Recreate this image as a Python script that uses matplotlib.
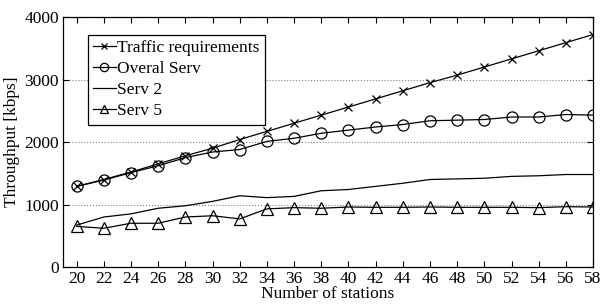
import matplotlib
matplotlib.use('Agg')
from matplotlib import pyplot as plt

stations = [20, 22, 24, 26, 28, 30, 32, 34, 36, 38, 40, 42, 44, 46, 48, 50, 52, 54, 56, 58]
traffic = [1290, 1400, 1520, 1650, 1780, 1900, 2040, 2170, 2300, 2430,
           2560, 2690, 2820, 2950, 3070, 3200, 3330, 3460, 3590, 3720]
overall = [1290, 1390, 1510, 1620, 1750, 1840, 1880, 2010, 2060, 2140,
           2190, 2240, 2280, 2340, 2350, 2360, 2400, 2400, 2440, 2430]
serv2 = [670, 800, 850, 940, 980, 1050, 1140, 1110, 1130, 1220,
         1240, 1290, 1340, 1400, 1410, 1420, 1450, 1460, 1480, 1480]
serv5 = [650, 620, 700, 700, 800, 820, 770, 930, 950, 940,
         960, 955, 955, 960, 955, 955, 955, 950, 965, 960]

plt.rcParams['font.family'] = ['Liberation Serif', 'DejaVu Serif']
plt.rcParams['font.size'] = 12.5

fig = plt.figure(figsize=(6.03, 3.04), dpi=100)
ax = fig.add_axes([0.1045, 0.1217, 0.879, 0.8223])

ax.plot(stations, traffic, color='black', lw=0.9, marker='x', ms=6, mew=0.9,
        label='Traffic requirements')
ax.plot(stations, overall, color='black', lw=0.9, marker='o', ms=8, mfc='none', mew=0.9,
        label='Overal Serv')
ax.plot(stations, serv2, color='black', lw=0.9, label='Serv 2')
ax.plot(stations, serv5, color='black', lw=0.9, marker='^', ms=8, mfc='none', mew=0.9,
        label='Serv 5')

ax.set_xlim(19, 58)
ax.set_ylim(0, 4000)
ax.set_xticks(stations)
ax.set_yticks([0, 1000, 2000, 3000, 4000])
ax.yaxis.grid(True, linestyle=':', color='gray', lw=0.8)
ax.tick_params(direction='in', top=True, right=True, length=4, pad=3)
for s in ax.spines.values():
    s.set_linewidth(0.9)

ax.set_xlabel('Number of stations', labelpad=-1)
ax.set_ylabel('Throughput [kbps]', labelpad=3)

leg = ax.legend(loc='upper left', bbox_to_anchor=(0.047, 0.928), fancybox=False,
                edgecolor='black', framealpha=1, handlelength=1.3, handletextpad=0.1,
                borderpad=0.3, labelspacing=0.28, borderaxespad=0, markerscale=0.75)
leg.get_frame().set_linewidth(0.9)

fig.savefig('out.png', dpi=100)
